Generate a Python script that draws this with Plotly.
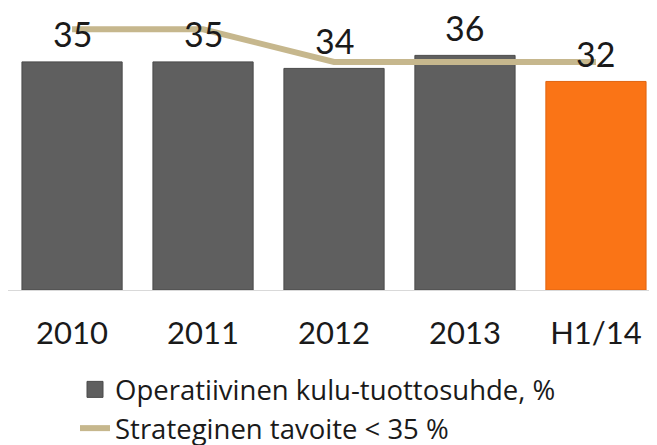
import plotly.graph_objects as go

categories = ["2010", "2011", "2012", "2013", "H1/14"]
ratio_values = [35, 35, 34, 36, 32]
target_values = [40, 40, 35, 35, 35]
bar_colors = ["#5F5F5F", "#5F5F5F", "#5F5F5F", "#5F5F5F", "#FA7416"]
bar_line_colors = ["#4A4A4A", "#4A4A4A", "#4A4A4A", "#4A4A4A", "#E06410"]

FONT = "Lato, 'Open Sans', sans-serif"
LEGEND_FONT = "'Open Sans', Lato, sans-serif"
x_pos = list(range(len(categories)))

fig = go.Figure()
fig.add_trace(go.Bar(
    x=x_pos, y=ratio_values,
    name="Operatiivinen kulu-tuottosuhde, %",
    showlegend=False,
    marker=dict(color=bar_colors, line=dict(color=bar_line_colors, width=1)),
    width=0.765,
))
# legend entry for the bars (larger square swatch)
fig.add_trace(go.Scatter(
    x=[None], y=[None], mode="markers",
    name="Operatiivinen kulu-tuottosuhde, %",
    legendgroup="a",
    marker=dict(symbol="square", size=18, color="#5F5F5F",
                line=dict(color="#4A4A4A", width=1)),
))
fig.add_trace(go.Scatter(
    x=x_pos, y=target_values, mode="lines",
    name="Strateginen tavoite < 35 %",
    legendgroup="b",
    line=dict(color="#C6B78D", width=6),
))

for i, v in zip(x_pos, ratio_values):
    fig.add_annotation(x=i, y=v, text=str(v), showarrow=False, yshift=28,
                       borderpad=0,
                       font=dict(size=34, color="#1A1A1A", family=FONT))

fig.update_layout(
    width=657, height=445,
    margin=dict(l=0, r=8, t=0, b=162),
    plot_bgcolor="white", paper_bgcolor="white",
    showlegend=True,
    legend=dict(orientation="v", x=67 / 649, xanchor="left",
                y=-0.264, yanchor="top",
                font=dict(size=27.5, color="#1A1A1A", family=LEGEND_FONT),
                tracegroupgap=0, itemwidth=30, bgcolor="rgba(0,0,0,0)"),
    xaxis=dict(range=[-0.489, 4.466], showline=True,
               linecolor="#D9D9D9", linewidth=1, zeroline=False,
               tickmode="array", tickvals=x_pos, ticktext=categories,
               showgrid=False, ticks="", tickfont=dict(size=31, color="#1A1A1A", family=FONT),
               ticklabelstandoff=16),
    yaxis=dict(range=[0, 43.27], visible=False, showgrid=False),
)

fig.write_html("out.html")
